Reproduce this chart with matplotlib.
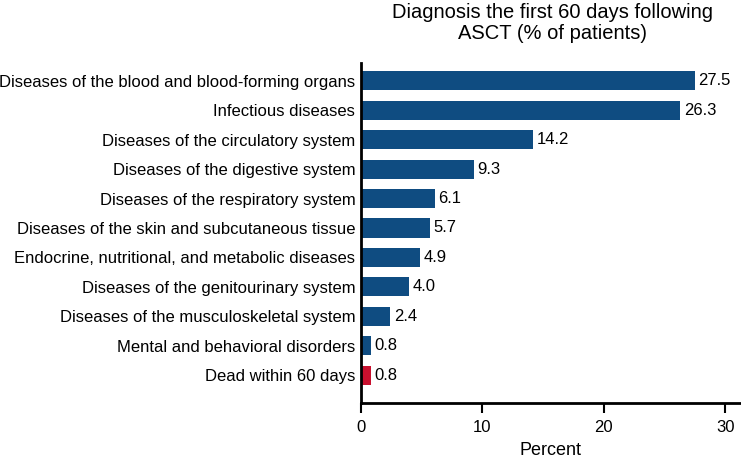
import matplotlib
matplotlib.use('Agg')
import matplotlib.pyplot as plt
from matplotlib import font_manager

categories = [
    'Diseases of the blood and blood-forming organs',
    'Infectious diseases',
    'Diseases of the circulatory system',
    'Diseases of the digestive system',
    'Diseases of the respiratory system',
    'Diseases of the skin and subcutaneous tissue',
    'Endocrine, nutritional, and metabolic diseases',
    'Diseases of the genitourinary system',
    'Diseases of the musculoskeletal system',
    'Mental and behavioral disorders',
    'Dead within 60 days',
]
values = [27.5, 26.3, 14.2, 9.3, 6.1, 5.7, 4.9, 4.0, 2.4, 0.8, 0.8]
labels = ['27.5', '26.3', '14.2', '9.3', '6.1', '5.7', '4.9', '4.0', '2.4', '0.8', '0.8']
xticks = [0, 10, 20, 30]

blue = '#0f4c81'
red = '#c8102e'
colors = [blue] * (len(values) - 1) + [red]

plt.rcParams['font.family'] = ['Liberation Sans', 'DejaVu Sans']
names = {f.name for f in font_manager.fontManager.ttflist}
narrow = 'Liberation Sans Narrow' if 'Liberation Sans Narrow' in names else 'Liberation Sans'

fig = plt.figure(figsize=(7.41, 4.65), dpi=100)
ax = fig.add_axes([0.487, 0.133, 0.513, 0.732])

y = list(range(len(values)))
ax.barh(y, values, height=0.65, color=colors)
for yi, v, lab in zip(y, values, labels):
    ax.text(v + 0.3, yi, lab, va='center', ha='left', fontsize=12)

ax.set_yticks(y)
ax.set_yticklabels(categories, fontsize=11.95)
ax.tick_params(axis='y', length=0, pad=4)
ax.set_xticks(xticks)
ax.tick_params(axis='x', labelsize=12, length=7, width=1.5, direction='out', pad=5)
ax.set_xlim(0, 31.3)
ax.set_ylim(10.95, -0.61)

for s in ['top', 'right']:
    ax.spines[s].set_visible(False)
for s in ['left', 'bottom']:
    ax.spines[s].set_linewidth(2)

ax.set_xlabel('Percent', fontsize=13, family=narrow, labelpad=5)
fig.text(0.746, 0.993, 'Diagnosis the first 60 days following\nASCT (% of patients)',
         ha='center', va='top', fontsize=14.5, linespacing=1.1)

fig.savefig('out.png', dpi=100)
